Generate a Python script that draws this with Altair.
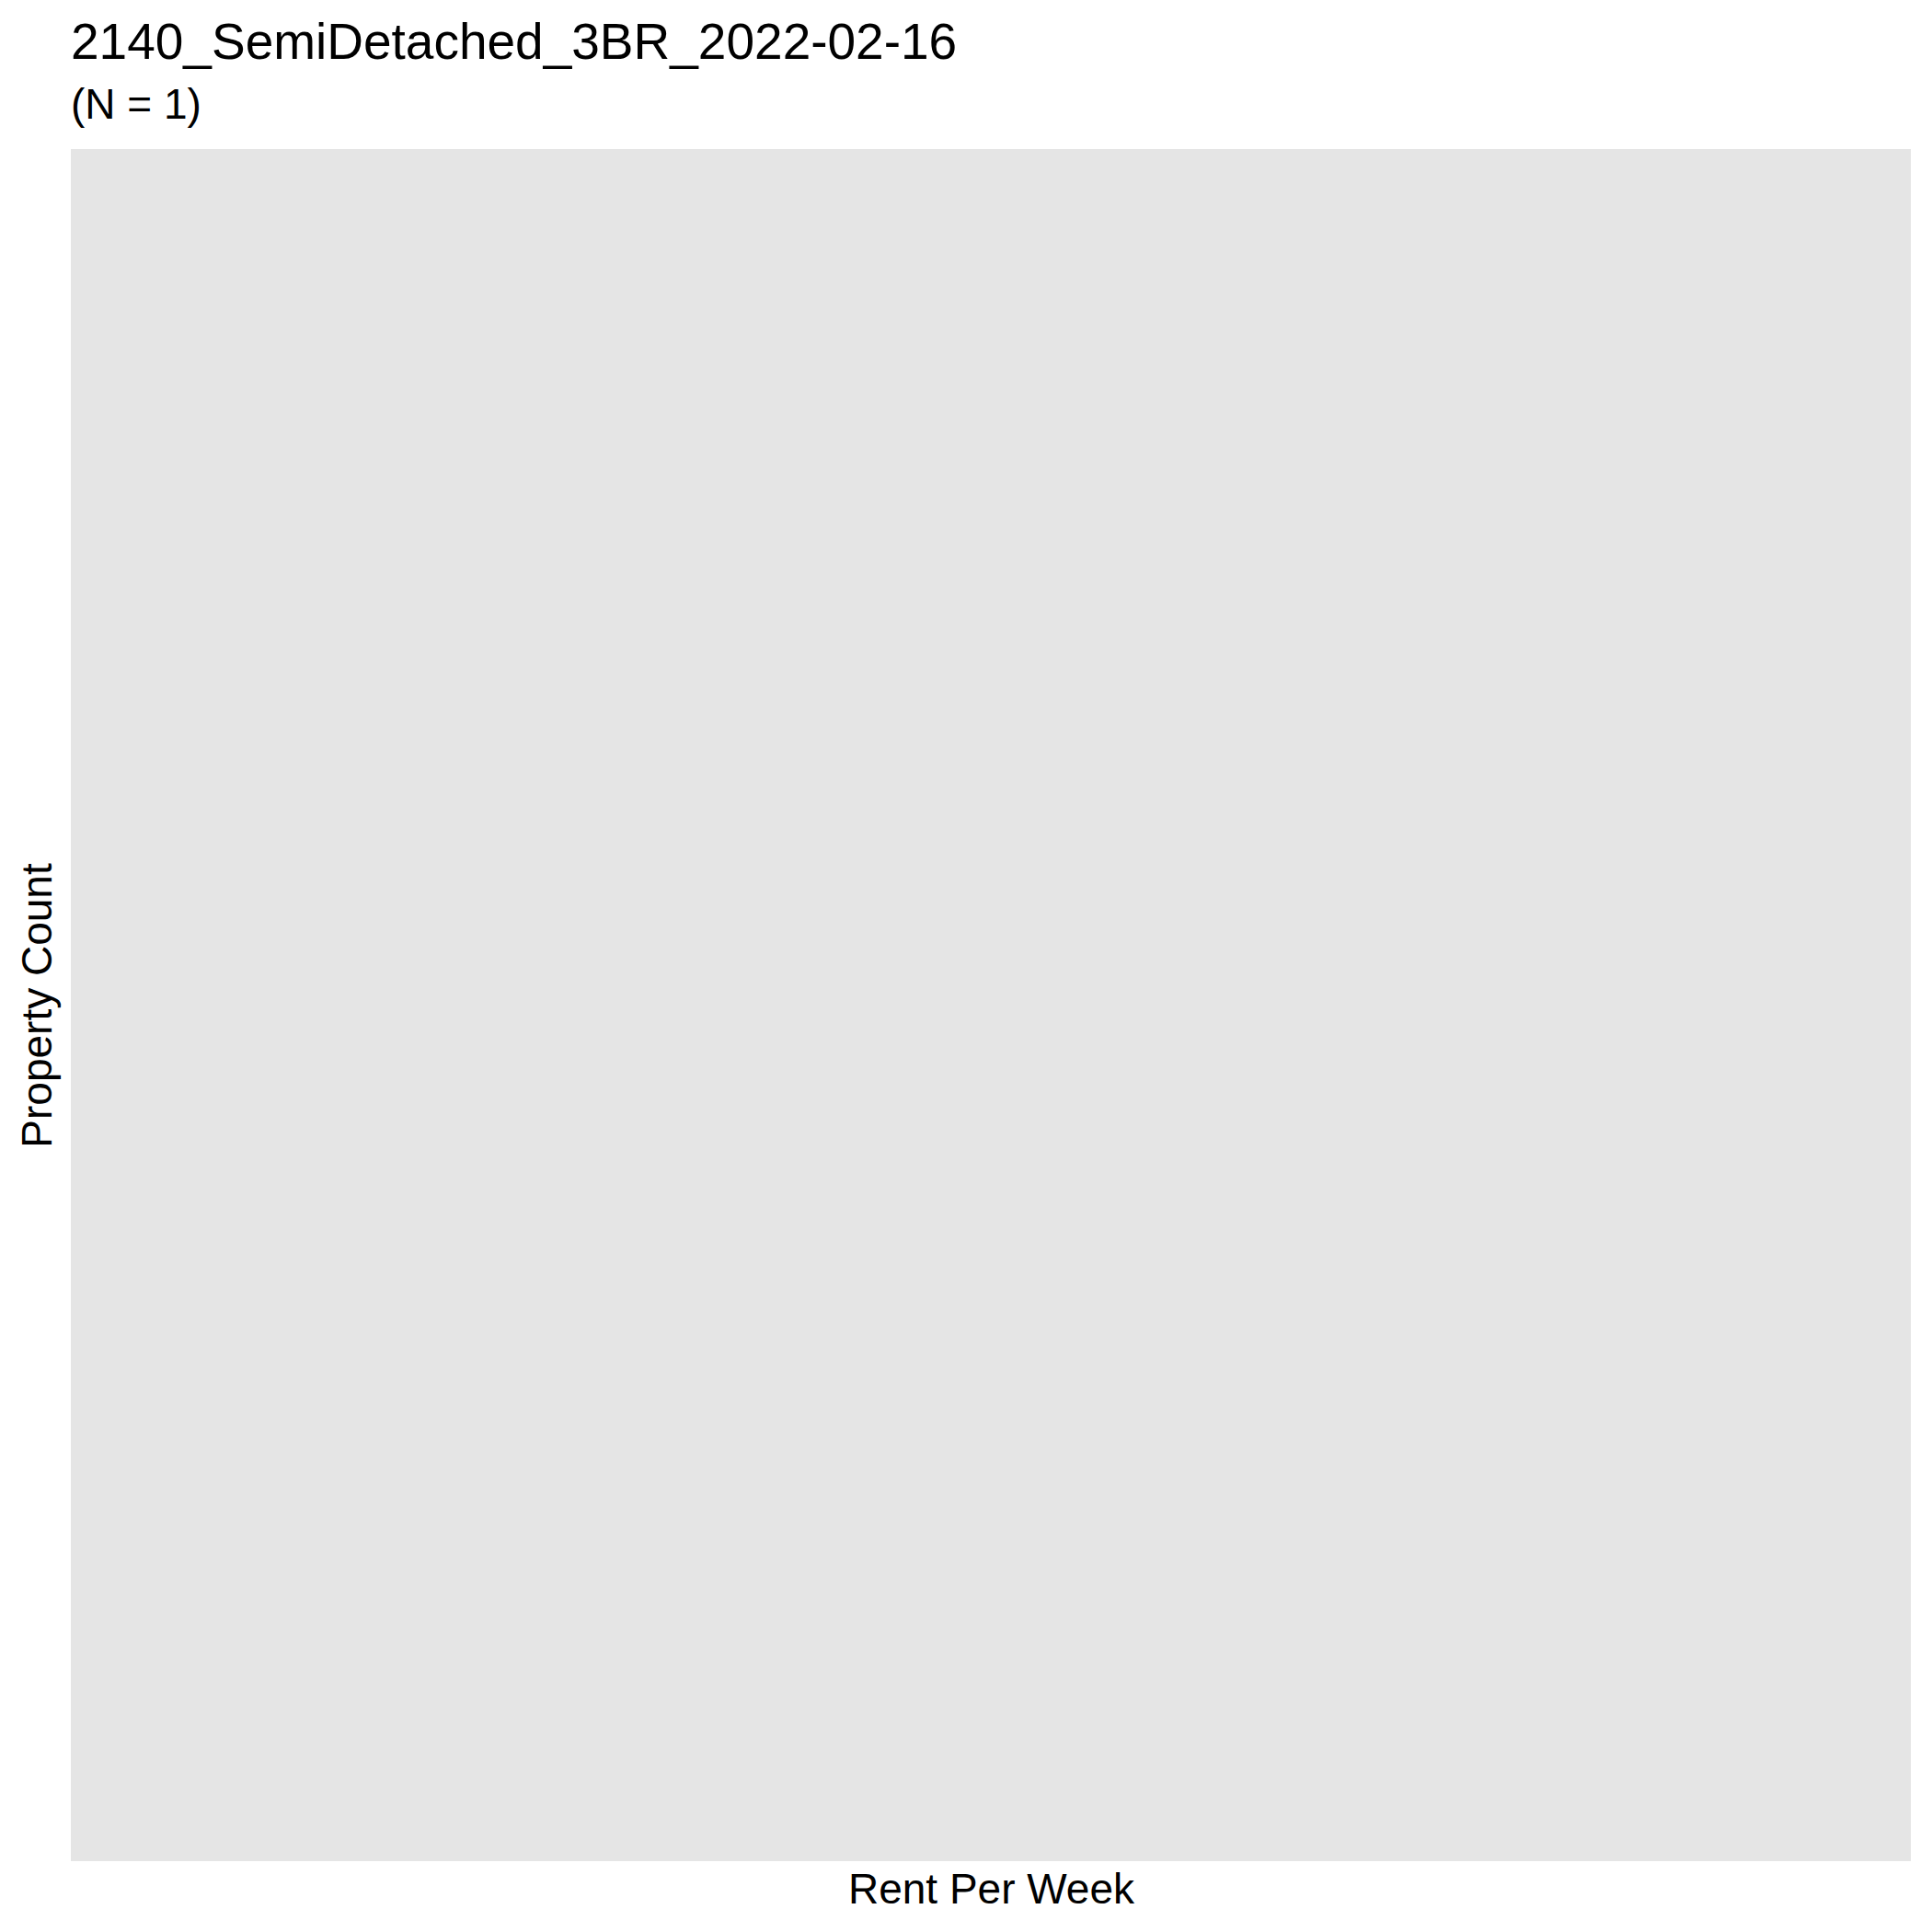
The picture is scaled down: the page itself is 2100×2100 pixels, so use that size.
import altair as alt
import pandas as pd

title_text = "2140_SemiDetached_3BR_2022-02-16"
subtitle_text = "(N = 1)"
x_title = "Rent Per Week"
y_title = "Property Count"

# The reference histogram shows no bars at all (empty panel)
rent_per_week = []
property_count = []

df = pd.DataFrame({
    "rent": pd.Series(rent_per_week, dtype=float),
    "count": pd.Series(property_count, dtype=float),
})

FONT = "Liberation Sans"

chart = alt.Chart(df).mark_bar(color="#595959").encode(
    x=alt.X("rent:Q", title=x_title,
            axis=alt.Axis(labels=False, ticks=False, domain=False, grid=False,
                          titlePadding=9, titleFont=FONT, titleFontSize=46,
                          titleFontWeight="normal", titleColor="black")),
    y=alt.Y("count:Q", title=y_title,
            axis=alt.Axis(labels=False, ticks=False, domain=False, grid=False,
                          titlePadding=12, titleFont=FONT, titleFontSize=46,
                          titleFontWeight="normal", titleColor="black")),
).properties(
    width=2000,
    height=1861,
    background="white",
    title=alt.TitleParams(
        text=title_text,
        subtitle=subtitle_text,
        anchor="start",
        frame="group",
        font=FONT,
        fontSize=55,
        fontWeight="normal",
        color="black",
        subtitleFont=FONT,
        subtitleFontSize=46,
        subtitleFontWeight="normal",
        subtitleColor="black",
        subtitlePadding=17,
        offset=23,
    ),
    padding={"left": 77, "top": 162, "right": 23, "bottom": 77},
    autosize=alt.AutoSizeParams(type="none"),
).configure_view(
    fill="#E5E5E5",
    stroke="transparent",
    strokeWidth=0,
)

chart.save("out.html", embed_options={"renderer": "svg", "actions": False})
